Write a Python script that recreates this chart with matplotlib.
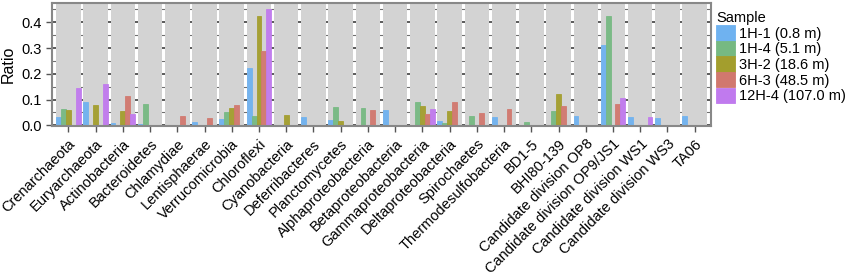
import numpy as np
import matplotlib
matplotlib.use("Agg")
from matplotlib import pyplot as plt
from matplotlib.patches import Patch

plt.rcParams['font.family'] = ['Liberation Sans', 'DejaVu Sans']

phyla = ["Crenarchaeota", "Euryarchaeota", "Actinobacteria", "Bacteroidetes",
         "Chlamydiae", "Lentisphaerae", "Verrucomicrobia", "Chloroflexi",
         "Cyanobacteria", "Deferribacteres", "Planctomycetes",
         "Alphaproteobacteria", "Betaproteobacteria", "Gammaproteobacteria",
         "Deltaproteobacteria", "Spirochaetes", "Thermodesulfobacteria",
         "BD1-5", "BHI80-139", "Candidate division OP8",
         "Candidate division OP9/JS1", "Candidate division WS1",
         "Candidate division WS3", "TA06"]

samples = ["1H-1 (0.8 m)", "1H-4 (5.1 m)", "3H-2 (18.6 m)",
           "6H-3 (48.5 m)", "12H-4 (107.0 m)"]
colors = ["#6FB2F0", "#76B982", "#A39E2D", "#D1786E", "#C07AEE"]

# ratio per phylum, one list per sample
s_1h1 = [0.034, 0.089, 0.010, 0.006, 0, 0.013, 0.025, 0.223, 0, 0.034, 0.019, 0,
         0.058, 0, 0.017, 0, 0.032, 0, 0, 0.035, 0.313, 0.031, 0.027, 0.035]
s_1h4 = [0.063, 0, 0, 0.082, 0, 0, 0.052, 0.035, 0, 0, 0.072, 0.067,
         0, 0.091, 0.009, 0.036, 0, 0.014, 0.057, 0, 0.423, 0, 0, 0]
s_3h2 = [0.058, 0.079, 0.056, 0, 0, 0, 0.069, 0.426, 0.039, 0, 0.016, 0,
         0, 0.076, 0.057, 0, 0, 0, 0.123, 0, 0, 0, 0, 0]
s_6h3 = [0, 0, 0.114, 0, 0.037, 0.028, 0.079, 0.290, 0, 0, 0, 0.058,
         0, 0.043, 0.089, 0.047, 0.063, 0, 0.075, 0, 0.082, 0, 0, 0]
s_12h4 = [0.145, 0.159, 0.043, 0, 0, 0, 0, 0.453, 0, 0, 0, 0,
          0, 0.063, 0, 0, 0, 0, 0, 0, 0.106, 0.031, 0, 0]
series = [s_1h1, s_1h4, s_3h2, s_6h3, s_12h4]

fig = plt.figure(figsize=(8.5, 2.78), dpi=100)
ax = fig.add_axes([0.0612, 0.545, 0.7753, 0.446])

x = np.arange(len(phyla))
ymin, ymax = -0.0047, 0.477
ax.set_xlim(-0.6, len(phyla) - 0.4)
ax.set_ylim(ymin, ymax)

# grid lines show only in the gaps between the grey strips
ax.set_axisbelow(True)
ax.set_yticks(np.arange(0, 0.41, 0.1))
ax.set_yticks(np.arange(0.05, 0.46, 0.1), minor=True)
ax.grid(axis='y', which='major', color='#404040', lw=1.2)
ax.grid(axis='y', which='minor', color='#707070', lw=0.8)

ax.bar(x, ymax - ymin, bottom=ymin, width=0.9, color='#D3D3D3', zorder=1)

w = 0.18
for i, (vals, c) in enumerate(zip(series, colors)):
    vals = np.array(vals)
    keep = vals > 0
    ax.bar(x[keep] - 0.36 + i * w, vals[keep], width=w, color=c,
           edgecolor=c, lw=0.6, alpha=0.95, zorder=2)

ax.set_xticks(x)
ax.set_xticklabels(phyla, rotation=45, ha='right', rotation_mode='anchor',
                   fontsize=10.5)
ax.set_yticklabels(["0.0", "0.1", "0.2", "0.3", "0.4"], fontsize=10.5)
ax.tick_params(axis='both', which='major', length=4, color='#555555', width=1)
ax.tick_params(axis='y', which='minor', length=0)
ax.set_ylabel("Ratio", fontsize=11.5, labelpad=4)
for sp in ax.spines.values():
    sp.set_color('#888888')
    sp.set_linewidth(1.5)

handles = [Patch(facecolor=c, edgecolor=c, lw=0.6) for c in colors]
leg = fig.legend(handles, samples, title="Sample", loc='upper left',
                 bbox_to_anchor=(0.841, 0.965), frameon=False, fontsize=10.5,
                 title_fontsize=10.5, handlelength=1.3, handleheight=1.25,
                 handletextpad=0.25, labelspacing=0.0, borderaxespad=0.0,
                 borderpad=0.1)
leg._legend_box.align = "left"

fig.savefig("out.png", dpi=100)
